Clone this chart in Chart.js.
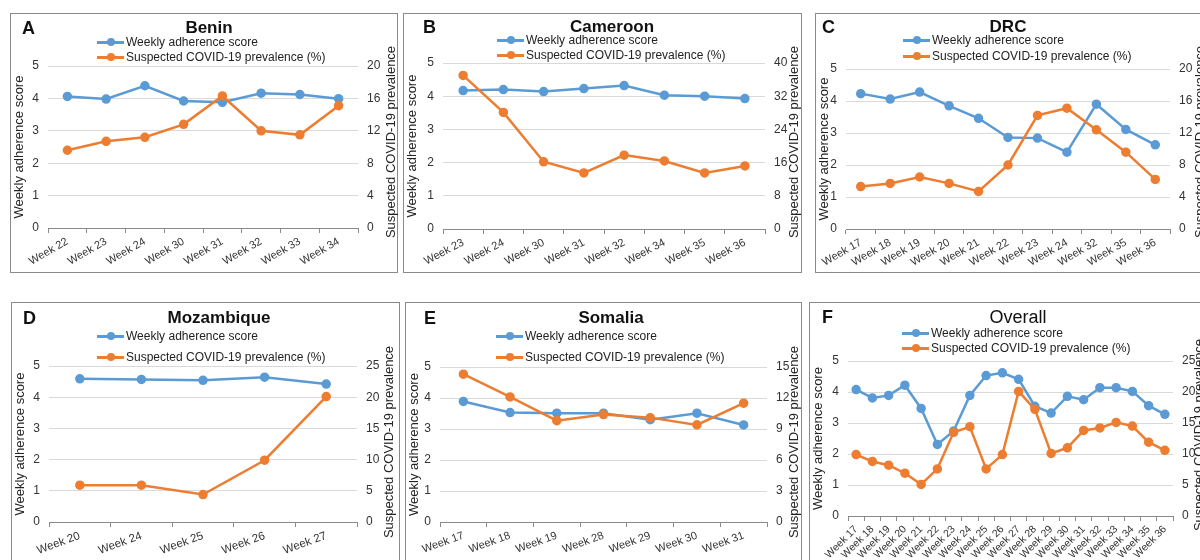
<!DOCTYPE html>
<html>
<head>
<meta charset="utf-8">
<script src="https://cdn.jsdelivr.net/npm/chart.js@4.4.1/dist/chart.umd.min.js"></script>
<style>
  body { margin: 0; width: 1200px; height: 560px; overflow: hidden; background: #fff; position: relative;
         font-family: "Liberation Sans", Arial, sans-serif; color: #111; }
  .box { position: absolute; }
  .box canvas { position: absolute; left: 0; top: 0; }
  .frame { position: absolute; border: 1px solid #8a8a8a; box-sizing: border-box; pointer-events: none; }
  .letter { position: absolute; font-weight: bold; font-size: 18px; transform: translateY(-50%); }
  .ttl { position: absolute; font-weight: bold; font-size: 17px; transform: translate(-50%, -50%); white-space: nowrap; }
  .ttl.plain { font-weight: normal; font-size: 18px; }
  .rtitle { position: absolute; font-size: 13px; white-space: nowrap; color: #222;
            transform: translate(-50%, -50%) rotate(-90deg); }
  .leg { position: absolute; font-size: 12px; white-space: nowrap; transform: translateY(-50%); display: flex; align-items: center; color: #222; }
  .leg .ln { position: relative; display: inline-block; width: 27px; height: 3px; margin-right: 2px; }
  .leg .dot { position: absolute; left: 10px; top: -2.5px; width: 8px; height: 8px; border-radius: 50%; }
</style>
</head>
<body>
<script>
// ---- data ----
const beninWeeks = ['Week 22', 'Week 23', 'Week 24', 'Week 30', 'Week 31', 'Week 32', 'Week 33', 'Week 34'];
const beninAdherence = [4.06, 3.98, 4.39, 3.92, 3.88, 4.16, 4.12, 3.99];
const beninPrevalence = [9.6, 10.7, 11.2, 12.8, 16.3, 12.0, 11.5, 15.1];

const cameroonWeeks = ['Week 23', 'Week 24', 'Week 30', 'Week 31', 'Week 32', 'Week 34', 'Week 35', 'Week 36'];
const cameroonAdherence = [4.17, 4.2, 4.14, 4.23, 4.32, 4.03, 4.0, 3.93];
const cameroonPrevalence = [37.0, 28.1, 16.2, 13.5, 17.8, 16.4, 13.5, 15.2];

const drcWeeks = ['Week 17', 'Week 18', 'Week 19', 'Week 20', 'Week 21', 'Week 22', 'Week 23', 'Week 24', 'Week 32', 'Week 35', 'Week 36'];
const drcAdherence = [4.23, 4.06, 4.28, 3.85, 3.46, 2.86, 2.84, 2.4, 3.9, 3.11, 2.63];
const drcPrevalence = [5.3, 5.7, 6.5, 5.7, 4.7, 8.0, 14.2, 15.1, 12.4, 9.6, 6.2];

const mozWeeks = ['Week 20', 'Week 24', 'Week 25', 'Week 26', 'Week 27'];
const mozAdherence = [4.59, 4.57, 4.54, 4.64, 4.42];
const mozPrevalence = [5.9, 5.9, 4.4, 9.9, 20.1];

const somaliaWeeks = ['Week 17', 'Week 18', 'Week 19', 'Week 28', 'Week 29', 'Week 30', 'Week 31'];
const somaliaAdherence = [3.89, 3.53, 3.51, 3.51, 3.3, 3.51, 3.13];
const somaliaPrevalence = [14.3, 12.1, 9.8, 10.4, 10.1, 9.4, 11.5];

const overallWeeks = ['Week 17', 'Week 18', 'Week 19', 'Week 20', 'Week 21', 'Week 22', 'Week 23', 'Week 24', 'Week 25', 'Week 26',
                      'Week 27', 'Week 28', 'Week 29', 'Week 30', 'Week 31', 'Week 32', 'Week 33', 'Week 34', 'Week 35', 'Week 36'];
const overallAdherence = [4.08, 3.81, 3.89, 4.22, 3.47, 2.31, 2.74, 3.89, 4.53, 4.62, 4.41, 3.54, 3.32, 3.86, 3.75, 4.14, 4.14, 4.02, 3.56, 3.28];
const overallPrevalence = [9.9, 8.8, 8.2, 6.9, 5.1, 7.6, 13.5, 14.4, 7.6, 9.9, 20.1, 17.2, 10.1, 11.0, 13.8, 14.2, 15.1, 14.5, 11.9, 10.6];

const rightMax = [20, 40, 20, 25, 15, 25];
const rightStep = [4, 8, 4, 5, 3, 5];

const BLUE = '#5b9bd5';
const ORANGE = '#ed7d31';

// ---- layout (page coords) ----
const panels = [
  { letter: 'A', title: 'Benin', weeks: beninWeeks, adh: beninAdherence, prev: beninPrevalence,
    box: [10, 13, 388, 260], plot: [48, 66, 358, 228], rot: 30, fs: 11,
    ttl: [209, 28], let: [22, 28], leg: [97, 42, 57], rt: [390, 142] },
  { letter: 'B', title: 'Cameroon', weeks: cameroonWeeks, adh: cameroonAdherence, prev: cameroonPrevalence,
    box: [403, 13, 399, 260], plot: [443, 63, 765, 229], rot: 28, fs: 11,
    ttl: [612, 27], let: [423, 27], leg: [497, 40, 55], rt: [793, 142] },
  { letter: 'C', title: 'DRC', weeks: drcWeeks, adh: drcAdherence, prev: drcPrevalence,
    box: [815, 13, 400, 260], plot: [846, 69, 1170, 229], rot: 30, fs: 11,
    ttl: [1008, 27], let: [822, 27], leg: [903, 40, 56], rt: [1199, 142] },
  { letter: 'D', title: 'Mozambique', weeks: mozWeeks, adh: mozAdherence, prev: mozPrevalence,
    box: [11, 302, 389, 280], plot: [49, 366, 357, 522], rot: 20, fs: 11.5,
    ttl: [219, 318], let: [23, 318], leg: [97, 336, 357], rt: [388, 442] },
  { letter: 'E', title: 'Somalia', weeks: somaliaWeeks, adh: somaliaAdherence, prev: somaliaPrevalence,
    box: [405, 302, 397, 280], plot: [440, 367, 767, 522], rot: 20, fs: 11,
    ttl: [611, 318], let: [424, 318], leg: [496, 336, 357], rt: [793, 442] },
  { letter: 'F', title: 'Overall', plain: true, weeks: overallWeeks, adh: overallAdherence, prev: overallPrevalence,
    box: [809, 302, 400, 280], plot: [848, 361, 1173, 516], rot: 45, fs: 10.5,
    ttl: [1018, 317], let: [822, 317], leg: [902, 333, 348], rt: [1198, 435] }
];

function el(cls, x, y, text) {
  const d = document.createElement('div');
  d.className = cls;
  d.style.left = x + 'px';
  d.style.top = y + 'px';
  if (text) d.textContent = text;
  document.body.appendChild(d);
  return d;
}

panels.forEach((p, i) => {
  const [bx, by, bw, bh] = p.box;
  const [pl, pt, pr, pb] = p.plot;

  const wrap = el('box', bx, by);
  wrap.style.width = bw + 'px';
  wrap.style.height = bh + 'px';
  const cv = document.createElement('canvas');
  cv.width = bw; cv.height = bh;
  wrap.appendChild(cv);

  const frame = el('frame', bx, by);
  frame.style.width = bw + 'px';
  frame.style.height = bh + 'px';

  el('letter', p.let[0], p.let[1], p.letter);
  el('ttl' + (p.plain ? ' plain' : ''), p.ttl[0], p.ttl[1], p.title);
  el('rtitle', p.rt[0], p.rt[1], 'Suspected COVID-19 prevalence');

  const series = [['Weekly adherence score', BLUE], ['Suspected COVID-19 prevalence (%)', ORANGE]];
  series.forEach((s, k) => {
    const lg = el('leg', p.leg[0], p.leg[1 + k]);
    lg.innerHTML = '<span class="ln" style="background:' + s[1] + '"><span class="dot" style="background:' + s[1] + '"></span></span>' + s[0];
  });

  new Chart(cv, {
    type: 'line',
    data: {
      labels: p.weeks,
      datasets: [
        { label: series[0][0], data: p.adh, yAxisID: 'y', order: 1,
          borderColor: BLUE, backgroundColor: BLUE, borderWidth: 2.5, pointRadius: 3.5, tension: 0 },
        { label: series[1][0], data: p.prev, yAxisID: 'y1', order: 0,
          borderColor: ORANGE, backgroundColor: ORANGE, borderWidth: 2.5, pointRadius: 3.5, tension: 0 }
      ]
    },
    options: {
      responsive: false,
      animation: false,
      devicePixelRatio: 1,
      layout: { padding: { top: pt - by, left: 0, right: 0, bottom: 0 } },
      plugins: { legend: { display: false }, title: { display: false }, tooltip: { enabled: false } },
      scales: {
        x: {
          offset: true,
          grid: { offset: true, drawOnChartArea: false, tickLength: 5, color: '#8a8a8a' },
          border: { color: '#8a8a8a' },
          ticks: { autoSkip: false, minRotation: p.rot, maxRotation: p.rot, padding: 2,
                   color: '#333', font: { family: 'Liberation Sans', size: p.fs } },
          afterFit: (s) => { s.height = by + bh - pb; }
        },
        y: {
          min: 0, max: 5,
          ticks: { stepSize: 1, padding: 9, color: '#333', font: { family: 'Liberation Sans', size: 12 } },
          grid: { color: '#d9d9d9', drawTicks: false },
          border: { display: false },
          title: { display: true, text: 'Weekly adherence score', color: '#222', padding: 2,
                   font: { family: 'Liberation Sans', size: 13 } },
          afterFit: (s) => { s.width = pl - bx; }
        },
        y1: {
          position: 'right',
          min: 0, max: rightMax[i],
          ticks: { stepSize: rightStep[i], padding: 9, color: '#333', font: { family: 'Liberation Sans', size: 12 } },
          grid: { display: false, drawTicks: false },
          border: { display: false },
          afterFit: (s) => { s.width = bx + bw - pr; }
        }
      }
    }
  });
});
</script>
</body>
</html>
